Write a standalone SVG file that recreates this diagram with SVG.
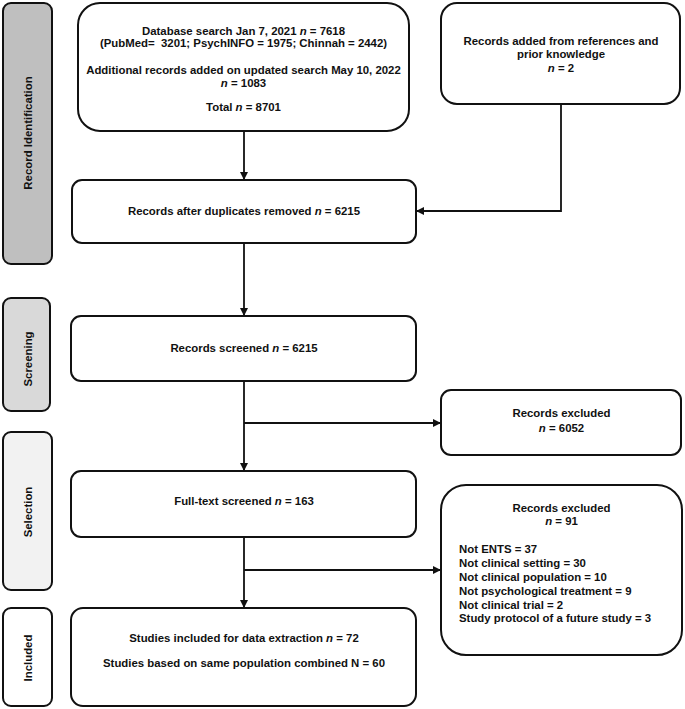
<svg xmlns="http://www.w3.org/2000/svg" width="685" height="709" viewBox="0 0 685 709">
<style>
.bx{fill:#fff;stroke:#111;stroke-width:2}
.side{stroke:#111;stroke-width:2}
text{font-family:"Liberation Sans",Arial,sans-serif;font-weight:bold;font-size:11.4px;fill:#111}
.c{text-anchor:middle}
.ln{fill:none;stroke:#111;stroke-width:1.8}
</style>
<defs>
<marker id="ah" markerWidth="8" markerHeight="8" refX="7" refY="4" orient="auto" markerUnits="userSpaceOnUse">
<path d="M0,0 L8,4 L0,8 Z" fill="#111"/>
</marker>
</defs>
<g id="stage-identification">
<rect class="side" x="3" y="3" width="49" height="261" rx="8" fill="#bfbfbf"/>
<text class="c" transform="translate(32,133) rotate(-90)">Record Identification</text>
</g>
<g id="stage-screening">
<rect class="side" x="3" y="298" width="47" height="113" rx="8" fill="#d9d9d9"/>
<text class="c" transform="translate(32,359) rotate(-90)">Screening</text>
</g>
<g id="stage-selection">
<rect class="side" x="3" y="432" width="49" height="158" rx="8" fill="#f2f2f2"/>
<text class="c" transform="translate(32,512) rotate(-90)">Selection</text>
</g>
<g id="stage-included">
<rect class="side" x="3" y="608" width="49" height="98" rx="8" fill="#fff"/>
<text class="c" transform="translate(32,658) rotate(-90)">Included</text>
</g>
<g id="db-search">
<rect class="bx" x="78" y="3" width="331" height="128" rx="22"/>
<text class="c" x="243.5" y="35">Database search Jan 7, 2021 <tspan font-style="italic">n</tspan> = 7618</text>
<text class="c" x="243.5" y="47">(PubMed=&#160; 3201; PsychINFO = 1975; Chinnah = 2442)</text>
<text class="c" x="243.5" y="74">Additional records added on updated search May 10, 2022</text>
<text class="c" x="243.5" y="87"><tspan font-style="italic">n</tspan> = 1083</text>
<text class="c" x="243.5" y="111">Total <tspan font-style="italic">n</tspan> = 8701</text>
</g>
<g id="refs-added">
<rect class="bx" x="441" y="3" width="239" height="101" rx="16"/>
<text class="c" x="561" y="45">Records added from references and</text>
<text class="c" x="561" y="58">prior knowledge</text>
<text class="c" x="561" y="72"><tspan font-style="italic">n</tspan> = 2</text>
</g>
<g id="dedup">
<rect class="bx" x="72" y="180" width="344" height="63" rx="10"/>
<text class="c" x="244" y="215">Records after duplicates removed <tspan font-style="italic">n</tspan> = 6215</text>
</g>
<g id="screened">
<rect class="bx" x="71" y="316" width="345" height="65" rx="10"/>
<text class="c" x="244" y="352">Records screened <tspan font-style="italic">n</tspan> = 6215</text>
</g>
<g id="excluded1">
<rect class="bx" x="441" y="390" width="240" height="65" rx="10"/>
<text class="c" x="561.5" y="417">Records excluded</text>
<text class="c" x="561.5" y="432"><tspan font-style="italic">n</tspan> = 6052</text>
</g>
<g id="fulltext">
<rect class="bx" x="71" y="471" width="345" height="66" rx="10"/>
<text class="c" x="244" y="505">Full-text screened <tspan font-style="italic">n</tspan> = 163</text>
</g>
<g id="excluded2">
<rect class="bx" x="441" y="485" width="241" height="170" rx="25"/>
<text class="c" x="561.5" y="512">Records excluded</text>
<text class="c" x="561.5" y="525"><tspan font-style="italic">n</tspan> = 91</text>
<text x="459" y="553">Not ENTS = 37</text>
<text x="459" y="567">Not clinical setting = 30</text>
<text x="459" y="581">Not clinical population = 10</text>
<text x="459" y="595">Not psychological treatment = 9</text>
<text x="459" y="609">Not clinical trial = 2</text>
<text x="459" y="622">Study protocol of a future study = 3</text>
</g>
<g id="included">
<rect class="bx" x="71" y="608" width="345" height="98" rx="12"/>
<text class="c" x="244" y="642">Studies included for data extraction <tspan font-style="italic">n</tspan> = 72</text>
<text class="c" x="244" y="667">Studies based on same population combined N = 60</text>
</g>
<g id="connectors">
<path class="ln" d="M244,131 V179" marker-end="url(#ah)"/>
<path class="ln" d="M561,104 V211 H417" marker-end="url(#ah)"/>
<path class="ln" d="M244,243 V315" marker-end="url(#ah)"/>
<path class="ln" d="M244,381 V470" marker-end="url(#ah)"/>
<path class="ln" d="M244,423 H440" marker-end="url(#ah)"/>
<path class="ln" d="M244,537 V607" marker-end="url(#ah)"/>
<path class="ln" d="M244,570 H440" marker-end="url(#ah)"/>
</g>
</svg>
